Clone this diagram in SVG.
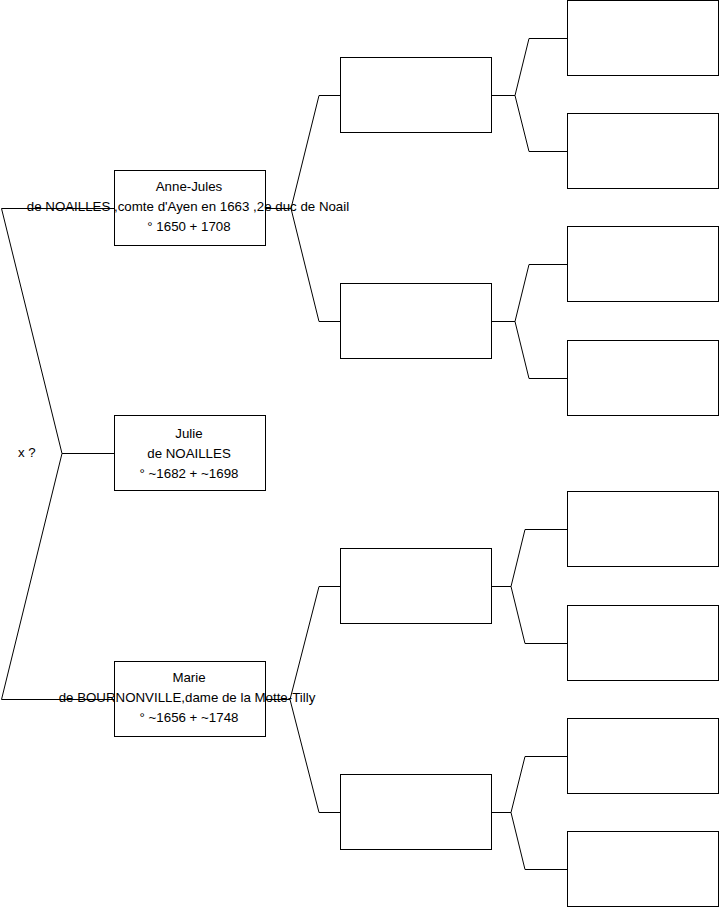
<svg xmlns="http://www.w3.org/2000/svg" width="719" height="908" viewBox="0 0 719 908">
<style>
rect{fill:none;stroke:#000;stroke-width:1}
text{font-family:"Liberation Sans",Arial,sans-serif;font-size:13.3px;fill:#000}
.c{text-anchor:middle}
#connectors path{fill:none;stroke:#000;stroke-width:1}
</style>
<rect x="0" y="0" width="719" height="908" style="fill:#fff;stroke:none"/>
<g id="anne-jules">
<rect x="114.5" y="170.5" width="151" height="75"/>
<text class="c" x="189" y="191">Anne-Jules</text>
<text class="c" x="188" y="211">de NOAILLES ,comte d'Ayen en 1663 ,2e duc de Noail</text>
<text class="c" x="189" y="231">° 1650 + 1708</text>
</g>
<g id="julie">
<rect x="114.5" y="415.5" width="151" height="75"/>
<text class="c" x="189" y="438">Julie</text>
<text class="c" x="189" y="458">de NOAILLES</text>
<text class="c" x="189" y="478">° ~1682 + ~1698</text>
</g>
<g id="marie">
<rect x="114.5" y="661.5" width="151" height="75"/>
<text class="c" x="189" y="682">Marie</text>
<text class="c" x="187" y="702">de BOURNONVILLE,dame de la Motte-Tilly</text>
<text class="c" x="189" y="722">° ~1656 + ~1748</text>
</g>
<g id="union"><text x="18" y="457">x ?</text></g>
<g id="g2-1"><rect x="340.5" y="57.5" width="151" height="75"/></g>
<g id="g2-2"><rect x="340.5" y="283.5" width="151" height="75"/></g>
<g id="g2-3"><rect x="340.5" y="548.5" width="151" height="75"/></g>
<g id="g2-4"><rect x="340.5" y="774.5" width="151" height="75"/></g>
<g id="g3-1"><rect x="567.5" y="0.5" width="151" height="75"/></g>
<g id="g3-2"><rect x="567.5" y="113.5" width="151" height="75"/></g>
<g id="g3-3"><rect x="567.5" y="226.5" width="151" height="75"/></g>
<g id="g3-4"><rect x="567.5" y="340.5" width="151" height="75"/></g>
<g id="g3-5"><rect x="567.5" y="491.5" width="151" height="75"/></g>
<g id="g3-6"><rect x="567.5" y="605.5" width="151" height="75"/></g>
<g id="g3-7"><rect x="567.5" y="718.5" width="151" height="75"/></g>
<g id="g3-8"><rect x="567.5" y="831.5" width="151" height="75"/></g>
<g id="connectors">
<path d="M114,208.5 H1.5 L62,453.5 L1.5,699.5 H114 M62,453.5 H114"/>
<path d="M266,208.5 H291 M319,95.5 L291,208.5 L319,321.5 M319,95.5 H340 M319,321.5 H340"/>
<path d="M266,699.5 H290 M319,586.5 L290,699.5 L319,812.5 M319,586.5 H340 M319,812.5 H340"/>
<path d="M492,95.5 H515 M529,38.5 L515,95.5 L529,151.5 M529,38.5 H567 M529,151.5 H567"/>
<path d="M492,321.5 H515 M529,264.5 L515,321.5 L529,378.5 M529,264.5 H567 M529,378.5 H567"/>
<path d="M492,586.5 H511 M525,529.5 L511,586.5 L525,643.5 M525,529.5 H567 M525,643.5 H567"/>
<path d="M492,812.5 H511 M525,756.5 L511,812.5 L525,869.5 M525,756.5 H567 M525,869.5 H567"/>
</g>
</svg>
